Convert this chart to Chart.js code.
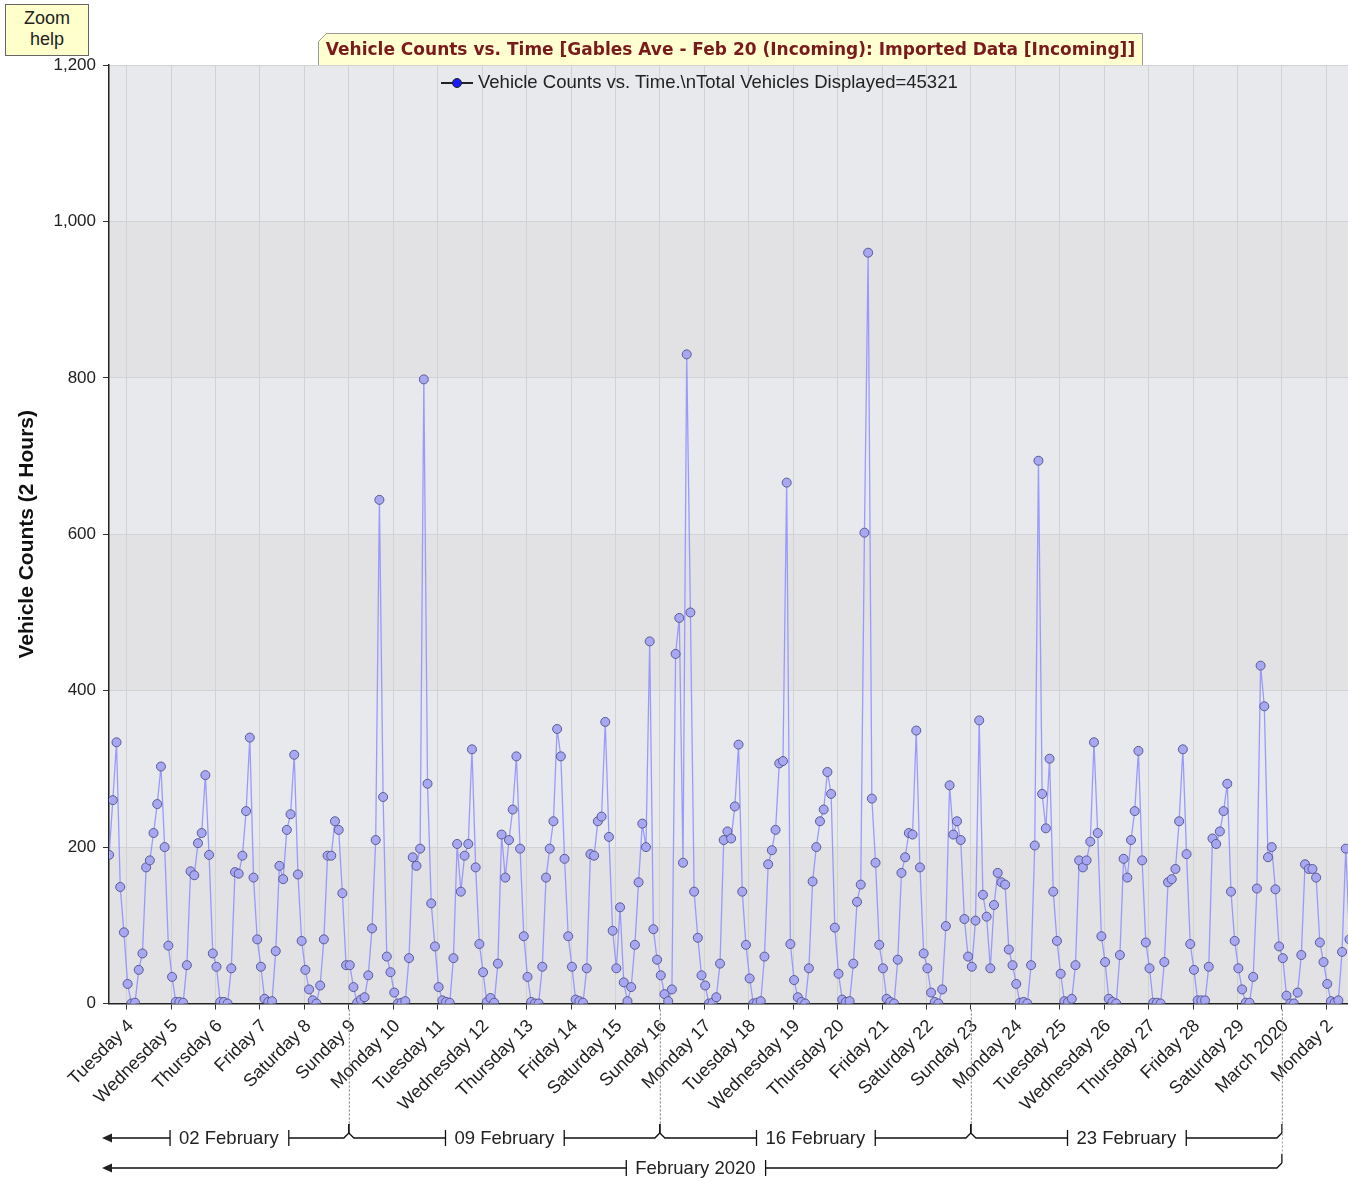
<!DOCTYPE html>
<html>
<head>
<meta charset="utf-8">
<script src="https://cdn.jsdelivr.net/npm/chart.js@4.4.1/dist/chart.umd.min.js"></script>
<style>
html,body{margin:0;padding:0;background:#fff;overflow:hidden;}
#wrap{position:relative;width:1348px;height:1182px;overflow:hidden;}
#c{position:absolute;left:0;top:0;}
#zoomhelp{position:absolute;left:5px;top:4px;width:84px;height:52px;background:#ffffcc;border:1px solid #666;
  font:18px "Liberation Sans",Arial,sans-serif;color:#222;text-align:center;line-height:21px;padding-top:3px;box-sizing:border-box;}
#titlebox{position:absolute;left:318px;top:33px;width:825px;height:32px;background:#ffffd2;
  clip-path:polygon(8px 0,100% 0,100% 100%,0 100%,0 8px);}
#titlebord{position:absolute;left:318px;top:33px;width:825px;height:32px;pointer-events:none;}
#titletext{position:absolute;left:318px;top:33px;width:825px;height:32px;display:flex;align-items:center;justify-content:center;
  font:bold 17px "DejaVu Sans",Verdana,sans-serif;color:#7a1b1b;white-space:nowrap;}
#legend{position:absolute;left:441px;top:71px;height:22px;white-space:nowrap;display:flex;align-items:center;
  font:18.5px "Liberation Sans",Arial,sans-serif;color:#222;}
#legend .sym{display:inline-block;position:relative;width:32px;height:18px;margin-right:5px;}
#legend .sym:before{content:"";position:absolute;left:0;right:0;top:9px;height:2px;background:#222;}
#legend .sym:after{content:"";position:absolute;left:11px;top:5px;width:10px;height:10px;border-radius:50%;background:#1a1aff;border:1px solid #222;box-sizing:border-box;}
</style>
</head>
<body>
<div id="wrap">
<canvas id="c" width="1348" height="1182"></canvas>
<div id="zoomhelp">Zoom<br>help</div>
<div id="titlebox"></div>
<svg id="titlebord" width="825" height="32"><polyline points="0.5,32 0.5,8.5 8.5,0.5 824.5,0.5 824.5,32" fill="none" stroke="#999" stroke-width="1"/></svg>
<div id="titletext">Vehicle Counts vs. Time [Gables Ave - Feb 20 (Incoming): Imported Data [Incoming]]</div>
<div id="legend"><span class="sym"></span><span>Vehicle Counts vs. Time.\nTotal Vehicles Displayed=45321</span></div>
</div>
<script>
// ---------------- DATA ----------------
// x coordinate = day of February 2020 (fractional); 30 = 1 March, 31 = 2 March
const FIRST_SAMPLE_DAY = 3 + 14.5 / 24;   // 3 Feb 2020, ~14:30
const SAMPLE_STEP_DAYS = 2 / 24;          // 2-hour counts

// Vehicle counts per 2-hour interval, one row per day
const COUNTS_FEB03 = [190, 260, 334, 149, 91];
const COUNTS_FEB04 = [25, 0, 1, 43, 64, 174, 183, 218, 255, 303, 200, 74];
const COUNTS_FEB05 = [34, 2, 2, 1, 49, 169, 164, 205, 218, 292, 190, 64];
const COUNTS_FEB06 = [47, 2, 2, 0, 45, 168, 166, 189, 246, 340, 161, 82];
const COUNTS_FEB07 = [47, 6, 2, 3, 67, 176, 159, 222, 242, 318, 165, 80];
const COUNTS_FEB08 = [43, 18, 4, 0, 23, 82, 189, 189, 233, 222, 141, 49];
const COUNTS_FEB09 = [49, 21, 1, 5, 8, 36, 96, 209, 644, 264, 60, 40];
const COUNTS_FEB10 = [14, 0, 1, 3, 58, 187, 176, 198, 798, 281, 128, 73];
const COUNTS_FEB11 = [21, 4, 2, 1, 58, 204, 143, 189, 204, 325, 174, 76];
const COUNTS_FEB12 = [40, 2, 7, 1, 51, 216, 161, 209, 248, 316, 198, 86];
const COUNTS_FEB13 = [34, 2, 0, 0, 47, 161, 198, 233, 351, 316, 185, 86];
const COUNTS_FEB14 = [47, 5, 3, 1, 45, 191, 189, 233, 239, 360, 213, 93];
const COUNTS_FEB15 = [45, 123, 27, 3, 21, 75, 155, 230, 200, 463, 95, 56];
const COUNTS_FEB16 = [36, 12, 3, 18, 447, 493, 180, 830, 500, 143, 84, 36];
const COUNTS_FEB17 = [23, 0, 1, 8, 51, 209, 220, 211, 252, 331, 143, 75];
const COUNTS_FEB18 = [32, 0, 1, 3, 60, 178, 196, 222, 307, 310, 666, 76];
const COUNTS_FEB19 = [30, 8, 2, 0, 45, 156, 200, 233, 248, 296, 268, 97];
const COUNTS_FEB20 = [38, 5, 2, 3, 51, 130, 152, 602, 960, 262, 180, 75];
const COUNTS_FEB21 = [45, 6, 2, 0, 56, 167, 187, 218, 216, 349, 174, 64];
const COUNTS_FEB22 = [45, 14, 2, 0, 18, 99, 279, 216, 233, 209, 108, 60];
const COUNTS_FEB23 = [47, 106, 362, 139, 111, 45, 126, 167, 155, 152, 69, 49];
const COUNTS_FEB24 = [25, 1, 2, 0, 49, 202, 694, 268, 224, 313, 143, 80];
const COUNTS_FEB25 = [38, 3, 2, 6, 49, 183, 174, 183, 207, 334, 218, 86];
const COUNTS_FEB26 = [53, 6, 2, 0, 62, 185, 161, 209, 246, 323, 183, 78];
const COUNTS_FEB27 = [45, 1, 1, 0, 53, 155, 159, 172, 233, 325, 191, 76];
const COUNTS_FEB28 = [43, 4, 4, 4, 47, 211, 204, 220, 246, 281, 143, 80];
const COUNTS_FEB29 = [45, 18, 1, 1, 34, 147, 432, 380, 187, 200, 146, 73];
const COUNTS_MAR01 = [58, 10, 0, 0, 14, 62, 178, 172, 172, 161, 78, 53];
const COUNTS_MAR02 = [25, 3, 1, 4, 66, 198, 82];

const COUNT_ROWS = [COUNTS_FEB03, COUNTS_FEB04, COUNTS_FEB05, COUNTS_FEB06, COUNTS_FEB07, COUNTS_FEB08,
  COUNTS_FEB09, COUNTS_FEB10, COUNTS_FEB11, COUNTS_FEB12, COUNTS_FEB13, COUNTS_FEB14, COUNTS_FEB15,
  COUNTS_FEB16, COUNTS_FEB17, COUNTS_FEB18, COUNTS_FEB19, COUNTS_FEB20, COUNTS_FEB21, COUNTS_FEB22,
  COUNTS_FEB23, COUNTS_FEB24, COUNTS_FEB25, COUNTS_FEB26, COUNTS_FEB27, COUNTS_FEB28, COUNTS_FEB29,
  COUNTS_MAR01, COUNTS_MAR02];

// x-axis day ticks (midnight of each day) and their labels
const DAY_TICKS = [4,5,6,7,8,9,10,11,12,13,14,15,16,17,18,19,20,21,22,23,24,25,26,27,28,29,30,31];
const DAY_LABELS = ["Tuesday 4","Wednesday 5","Thursday 6","Friday 7","Saturday 8","Sunday 9","Monday 10",
  "Tuesday 11","Wednesday 12","Thursday 13","Friday 14","Saturday 15","Sunday 16","Monday 17","Tuesday 18",
  "Wednesday 19","Thursday 20","Friday 21","Saturday 22","Sunday 23","Monday 24","Tuesday 25","Wednesday 26",
  "Thursday 27","Friday 28","Saturday 29","March 2020","Monday 2"];

// y-axis ticks
const Y_TICKS = [0, 200, 400, 600, 800, 1000, 1200];

// week and month bands below the axis [start day, end day]
const WEEK_LABELS = ["02 February", "09 February", "16 February", "23 February", "01 March"];
const WEEK_STARTS = [2, 9, 16, 23, 30];
const WEEK_ENDS   = [9, 16, 23, 30, 37];
const MONTH_LABELS = ["February 2020", "March 2020"];
const MONTH_STARTS = [1, 30];
const MONTH_ENDS   = [30, 61];

// visible x window
const X_MIN = 3.6016;
const X_MAX = 31.488;

// ---------------- BUILD ----------------
const points = [];
let idx = 0;
COUNT_ROWS.forEach(row => row.forEach(v => {
  points.push({x: FIRST_SAMPLE_DAY + idx * SAMPLE_STEP_DAYS, y: v});
  idx++;
}));

const FONT = '"Liberation Sans", Arial, sans-serif';
Chart.defaults.font.family = FONT;

const bandPlugin = {
  id: 'bands',
  beforeDraw(chart) {
    const {ctx, chartArea: a, scales: {y}} = chart;
    ctx.save();
    for (let i = 0; i < Y_TICKS.length - 1; i++) {
      const top = y.getPixelForValue(Y_TICKS[i + 1]);
      const bot = y.getPixelForValue(Y_TICKS[i]);
      ctx.fillStyle = (i % 2 === 0) ? '#e2e2e4' : '#e8e9ec';
      ctx.fillRect(a.left, top, a.right - a.left, bot - top);
    }
    ctx.restore();
  }
};

function drawRow(chart, ctx, labels, starts, ends, rowY) {
  const {chartArea: a, scales: {x}} = chart;
  ctx.font = '18.5px ' + FONT;
  ctx.textAlign = 'center';
  ctx.textBaseline = 'middle';
  for (let i = 0; i < labels.length; i++) {
    const sPx = x.getPixelForValue(starts[i]);
    const ePx = x.getPixelForValue(ends[i]);
    const leftOpen = sPx < a.left;
    const rightOpen = ePx > a.right;
    const L = leftOpen ? a.left - 7 : sPx;
    const R = rightOpen ? a.right : ePx;
    const tw = ctx.measureText(labels[i]).width;
    if (R - L < tw + 40) continue;
    const cx = ((leftOpen ? a.left : sPx) + R) / 2;
    const b1 = cx - tw / 2 - 9, b2 = cx + tw / 2 + 10;
    ctx.strokeStyle = '#111';
    ctx.lineWidth = 1.3;
    ctx.fillStyle = '#222';
    ctx.fillText(labels[i], cx, rowY + 1);
    ctx.beginPath();
    if (leftOpen) ctx.moveTo(L + 6, rowY);
    else { ctx.moveTo(L, rowY - 5); ctx.lineTo(L + 5, rowY); }
    ctx.lineTo(b1, rowY);
    ctx.moveTo(b1, rowY - 8); ctx.lineTo(b1, rowY + 8);
    ctx.moveTo(b2, rowY - 8); ctx.lineTo(b2, rowY + 8);
    ctx.moveTo(b2, rowY);
    if (!rightOpen) { ctx.lineTo(R - 5, rowY); ctx.lineTo(R, rowY - 5); }
    else ctx.lineTo(R, rowY);
    if (!leftOpen) { ctx.moveTo(L, rowY - 5); ctx.lineTo(L, rowY - 14); }
    if (!rightOpen) { ctx.moveTo(R, rowY - 5); ctx.lineTo(R, rowY - 14); }
    ctx.stroke();
    if (leftOpen) {
      ctx.beginPath();
      ctx.moveTo(L, rowY);
      ctx.lineTo(L + 10, rowY - 4.5);
      ctx.lineTo(L + 10, rowY + 4.5);
      ctx.closePath();
      ctx.fill();
    }
    ctx.save();
    ctx.strokeStyle = '#9a9a9a';
    ctx.lineWidth = 1;
    ctx.setLineDash([2, 2]);
    ctx.beginPath();
    [leftOpen ? null : L, rightOpen ? null : R].forEach(px => {
      if (px === null) return;
      ctx.moveTo(px + 0.5, a.bottom + 6);
      ctx.lineTo(px + 0.5, rowY - 14);
    });
    ctx.stroke();
    ctx.restore();
  }
}

const rowsPlugin = {
  id: 'rows',
  afterDraw(chart) {
    const ctx = chart.ctx;
    ctx.save();
    drawRow(chart, ctx, WEEK_LABELS, WEEK_STARTS, WEEK_ENDS, 1138);
    drawRow(chart, ctx, MONTH_LABELS, MONTH_STARTS, MONTH_ENDS, 1168);
    ctx.restore();
  }
};

new Chart(document.getElementById('c'), {
  type: 'line',
  data: {
    datasets: [{
      label: 'Vehicle Counts vs. Time',
      data: points,
      borderColor: 'rgba(140,140,255,0.85)',
      borderWidth: 1.3,
      pointRadius: 4.5,
      pointBorderWidth: 1,
      pointBackgroundColor: '#a8a8f2',
      pointBorderColor: '#5a5a96',
      tension: 0,
      fill: false
    }]
  },
  options: {
    responsive: false,
    animation: false,
    events: [],
    layout: {autoPadding: false, padding: {top: 65, left: 0, right: 0, bottom: 0}},
    plugins: {legend: {display: false}, tooltip: {enabled: false}, title: {display: false}},
    scales: {
      x: {
        type: 'linear',
        min: X_MIN,
        max: X_MAX,
        afterBuildTicks(s) { s.ticks = DAY_TICKS.map(v => ({value: v})); },
        afterFit(s) { s.height = 1182 - 1003.5; s.paddingLeft = 0; s.paddingRight = 0; },
        ticks: {
          autoSkip: false, maxRotation: 45, minRotation: 45,
          font: {size: 18}, color: '#222', padding: 6, labelOffset: 4,
          callback: (v, i) => DAY_LABELS[i]
        },
        grid: {color: '#d2d2d2', tickColor: '#333', tickLength: 6, lineWidth: 1},
        border: {color: '#222', width: 1.5}
      },
      y: {
        min: 0, max: 1200,
        afterBuildTicks(s) { s.ticks = Y_TICKS.map(v => ({value: v})); },
        afterFit(s) { s.width = 109; },
        ticks: {font: {size: 17}, color: '#222', padding: 7,
          callback: v => v.toLocaleString('en-US')},
        grid: {color: '#d2d2d2', tickColor: '#333', tickLength: 6, lineWidth: 1},
        border: {color: '#222', width: 1.5},
        title: {display: true, text: 'Vehicle Counts (2 Hours)', color: '#111',
          font: {size: 21, weight: 'bold'}, padding: {top: 15, bottom: 0}}
      }
    }
  },
  plugins: [bandPlugin, rowsPlugin]
});
</script>
</body>
</html>
